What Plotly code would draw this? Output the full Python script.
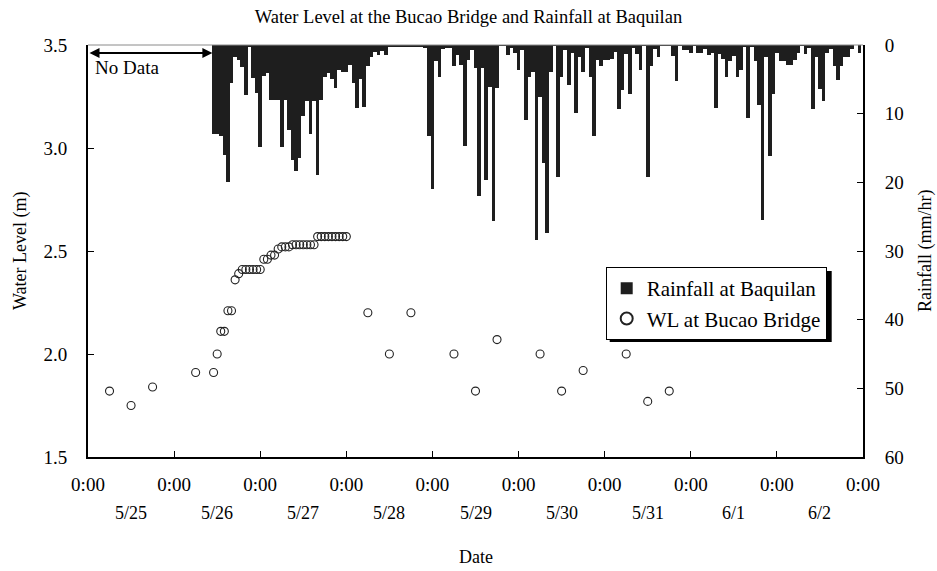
import plotly.graph_objects as go
import pandas as pd

# ---------------- data ----------------
rain_start = "2004-05-26 11:00"
rainfall = [
    12.9, 12.9, 13.2, 16.0, 19.9, 5.6, 1.7, 2.2, 3.2, 7.3,
    0.2, 4.8, 7.0, 14.9, 4.5, 4.1, 8.0, 8.0, 8.0, 14.9,
    8.0, 12.4, 16.7, 18.3, 16.5, 10.4, 8.2, 12.9, 8.2, 18.9,
    8.0, 4.6, 4.1, 5.0, 6.3, 3.6, 4.0, 4.0, 2.9, 5.6,
    9.2, 4.9, 9.1, 3.1, 1.7, 1.0, 1.5, 0.9, 1.5, 0.2,
    0.2, 0.2, 0.2, 0.2, 0.2, 0.2, 0.2, 0.2, 0.2, 0.5,
    13.3, 21.0, 2.4, 4.6, 0.6, 0.4, 0.4, 3.0, 1.5, 2.9,
    14.7, 2.2, 0.7, 3.3, 22.0, 3.3, 19.7, 6.1, 25.7, 6.3,
    0.1, 0.1, 1.5, 0.5, 1.2, 3.6, 0.7, 10.9, 4.7, 3.9,
    28.4, 7.5, 17.2, 27.4, 3.9, 0.1, 19.2, 4.6, 0.7, 5.8,
    1.2, 9.9, 1.7, 4.0, 0.5, 4.7, 13.3, 2.2, 3.0, 2.2,
    2.2, 2.0, 1.0, 9.3, 6.6, 1.3, 7.1, 0.5, 1.3, 3.6,
    0.1, 19.2, 3.1, 0.6, 1.7, 0.1, 0.1, 0.1, 1.6, 5.3,
    0.1, 0.7, 0.7, 1.1, 0.1, 1.1, 1.1, 0.6, 1.5, 1.1,
    9.2, 1.3, 2.1, 4.6, 2.4, 1.6, 4.7, 3.6, 0.2, 10.6,
    0.2, 2.4, 8.8, 25.5, 1.7, 16.2, 7.1, 1.1, 2.4, 2.4,
    2.9, 2.9, 2.2, 1.1, 0.1, 1.3, 0.5, 9.3, 1.7, 6.4,
    8.2, 1.1, 0.6, 3.1, 5.1, 3.1, 1.7, 1.7, 0.6, 0.0,
    1.1,
]

wl_times = [
    "2004-05-25 06:00", "2004-05-25 12:00", "2004-05-25 18:00",
    "2004-05-26 06:00", "2004-05-26 11:00", "2004-05-26 12:00",
    "2004-05-26 13:00", "2004-05-26 14:00", "2004-05-26 15:00",
    "2004-05-26 16:00", "2004-05-26 17:00", "2004-05-26 18:00",
    "2004-05-26 19:00", "2004-05-26 20:00", "2004-05-26 21:00",
    "2004-05-26 22:00", "2004-05-26 23:00", "2004-05-27 00:00",
    "2004-05-27 01:00", "2004-05-27 02:00", "2004-05-27 03:00",
    "2004-05-27 04:00", "2004-05-27 05:00", "2004-05-27 06:00",
    "2004-05-27 07:00", "2004-05-27 08:00", "2004-05-27 09:00",
    "2004-05-27 10:00", "2004-05-27 11:00", "2004-05-27 12:00",
    "2004-05-27 13:00", "2004-05-27 14:00", "2004-05-27 15:00",
    "2004-05-27 16:00", "2004-05-27 17:00", "2004-05-27 18:00",
    "2004-05-27 19:00", "2004-05-27 20:00", "2004-05-27 21:00",
    "2004-05-27 22:00", "2004-05-27 23:00", "2004-05-28 00:00",
    "2004-05-28 06:00", "2004-05-28 12:00", "2004-05-28 18:00",
    "2004-05-29 06:00", "2004-05-29 12:00", "2004-05-29 18:00",
    "2004-05-30 06:00", "2004-05-30 12:00", "2004-05-30 18:00",
    "2004-05-31 06:00", "2004-05-31 12:00", "2004-05-31 18:00",
]
wl_values = [
    1.82, 1.75, 1.84,
    1.91, 1.91, 2.00,
    2.11, 2.11, 2.21,
    2.21, 2.36, 2.39,
    2.41, 2.41, 2.41,
    2.41, 2.41, 2.41,
    2.46, 2.46, 2.48,
    2.48, 2.51, 2.52,
    2.52, 2.52, 2.53,
    2.53, 2.53, 2.53,
    2.53, 2.53, 2.53,
    2.57, 2.57, 2.57,
    2.57, 2.57, 2.57,
    2.57, 2.57, 2.57,
    2.20, 2.00, 2.20,
    2.00, 1.82, 2.07,
    2.00, 1.82, 1.92,
    2.00, 1.77, 1.82,
]

x_start = "2004-05-25 00:00"
x_end = "2004-06-03 00:00"
tick_label = "0:00"
date_labels = ["5/25", "5/26", "5/27", "5/28", "5/29", "5/30", "5/31", "6/1", "6/2"]
no_data_end = "2004-05-26 10:40"

# ---------------- figure ----------------
rain_times = pd.date_range(rain_start, periods=len(rainfall), freq="h")
day_ticks = pd.date_range(x_start, x_end, freq="D")
date_pos = day_ticks[:-1] + pd.Timedelta(hours=12)

FONT = "Liberation Serif"
fig = go.Figure()
fig.add_trace(go.Bar(
    x=rain_times, y=rainfall, yaxis="y2", name="Rainfall at Baquilan",
    marker=dict(color="#1e1e1e", line=dict(width=0)),
    width=3600 * 1000,
))
fig.add_trace(go.Scatter(
    x=pd.to_datetime(wl_times), y=wl_values, mode="markers", name="WL at Bucao Bridge",
    marker=dict(symbol="circle-open", size=8, color="#222222", line=dict(width=1.1)),
))

annotations = []
for pos, lab in zip(date_pos, date_labels):
    annotations.append(dict(x=pos, y=-0.136, xref="x", yref="paper", text=lab,
                            showarrow=False, font=dict(size=18, family=FONT), yanchor="middle"))
annotations.append(dict(x=0.5, y=-0.243, xref="paper", yref="paper", text="Date",
                        showarrow=False, font=dict(size=18, family=FONT), yanchor="middle"))
annotations.append(dict(x=-0.0877, y=0.5, xref="paper", yref="paper", text="Water Level (m)",
                        textangle=-90, showarrow=False, xanchor="center", yanchor="middle",
                        font=dict(size=18, family=FONT)))
annotations.append(dict(x=1.08, y=0.5, xref="paper", yref="paper", text="Rainfall (mm/hr)",
                        textangle=-90, showarrow=False, xanchor="center", yanchor="middle",
                        font=dict(size=18, family=FONT)))
# No data arrow
annotations.append(dict(x=pd.Timestamp(no_data_end), y=3.461, ax=pd.Timestamp(x_start), ay=3.461,
                        xref="x", yref="y", axref="x", ayref="y", text="",
                        showarrow=True, arrowhead=2, startarrowhead=2, arrowside="end+start",
                        arrowwidth=2, arrowsize=1, arrowcolor="black", standoff=0, startstandoff=0))
annotations.append(dict(x=pd.Timestamp("2004-05-25 10:50"), y=3.39, xref="x", yref="y",
                        text="No Data", showarrow=False, font=dict(size=19, family=FONT)))

lx, ly = 0.668, 0.461
lw, lh = 222 / 775, 71 / 412
sx, sy = 4 / 775, 4 / 412
shapes = [
    dict(type="line", xref="paper", yref="paper", x0=0, x1=1, y0=1, y1=1,
         line=dict(color="#8a8a8a", width=1)),
    dict(type="rect", xref="paper", yref="paper", x0=lx + sx, x1=lx + lw + sx,
         y0=ly - lh - sy, y1=ly - sy, fillcolor="black", line=dict(width=0)),
]

fig.update_layout(
    width=937, height=571,
    margin=dict(l=88, r=74, t=45, b=114),
    paper_bgcolor="white", plot_bgcolor="white",
    font=dict(family=FONT, color="black", size=19),
    title=dict(text="Water Level at the Bucao Bridge and Rainfall at Baquilan",
               x=0.5, xanchor="center", y=1 - 17 / 571, yanchor="middle",
               font=dict(size=18.5, family=FONT)),
    bargap=0,
    showlegend=True,
    legend=dict(x=lx, y=ly, xanchor="left", yanchor="top", bgcolor="white",
                bordercolor="black", borderwidth=1, font=dict(size=21, family=FONT),
                traceorder="normal", tracegroupgap=0, itemsizing="constant"),
    xaxis=dict(type="date", range=[x_start, x_end], tickvals=day_ticks,
               ticktext=[tick_label] * len(day_ticks), ticks="inside", ticklen=6,
               tickcolor="black", showline=True, linecolor="black", linewidth=2,
               showgrid=False, zeroline=False, tickfont=dict(size=19),
               ticklabelstandoff=9),
    yaxis=dict(range=[1.5, 3.5], dtick=0.5, tickformat=".1f", ticks="inside", ticklen=6,
               tickcolor="black", showline=True, linecolor="black", linewidth=2,
               showgrid=False, zeroline=False, tickfont=dict(size=19), ticklabelstandoff=15),
    yaxis2=dict(overlaying="y", side="right", range=[60, 0], dtick=10, ticks="inside",
                ticklen=6, tickcolor="black", showline=True, linecolor="black", linewidth=2,
                showgrid=False, zeroline=False, tickfont=dict(size=19), ticklabelstandoff=16),
    annotations=annotations,
    shapes=shapes,
)

fig.write_html("out.html")
